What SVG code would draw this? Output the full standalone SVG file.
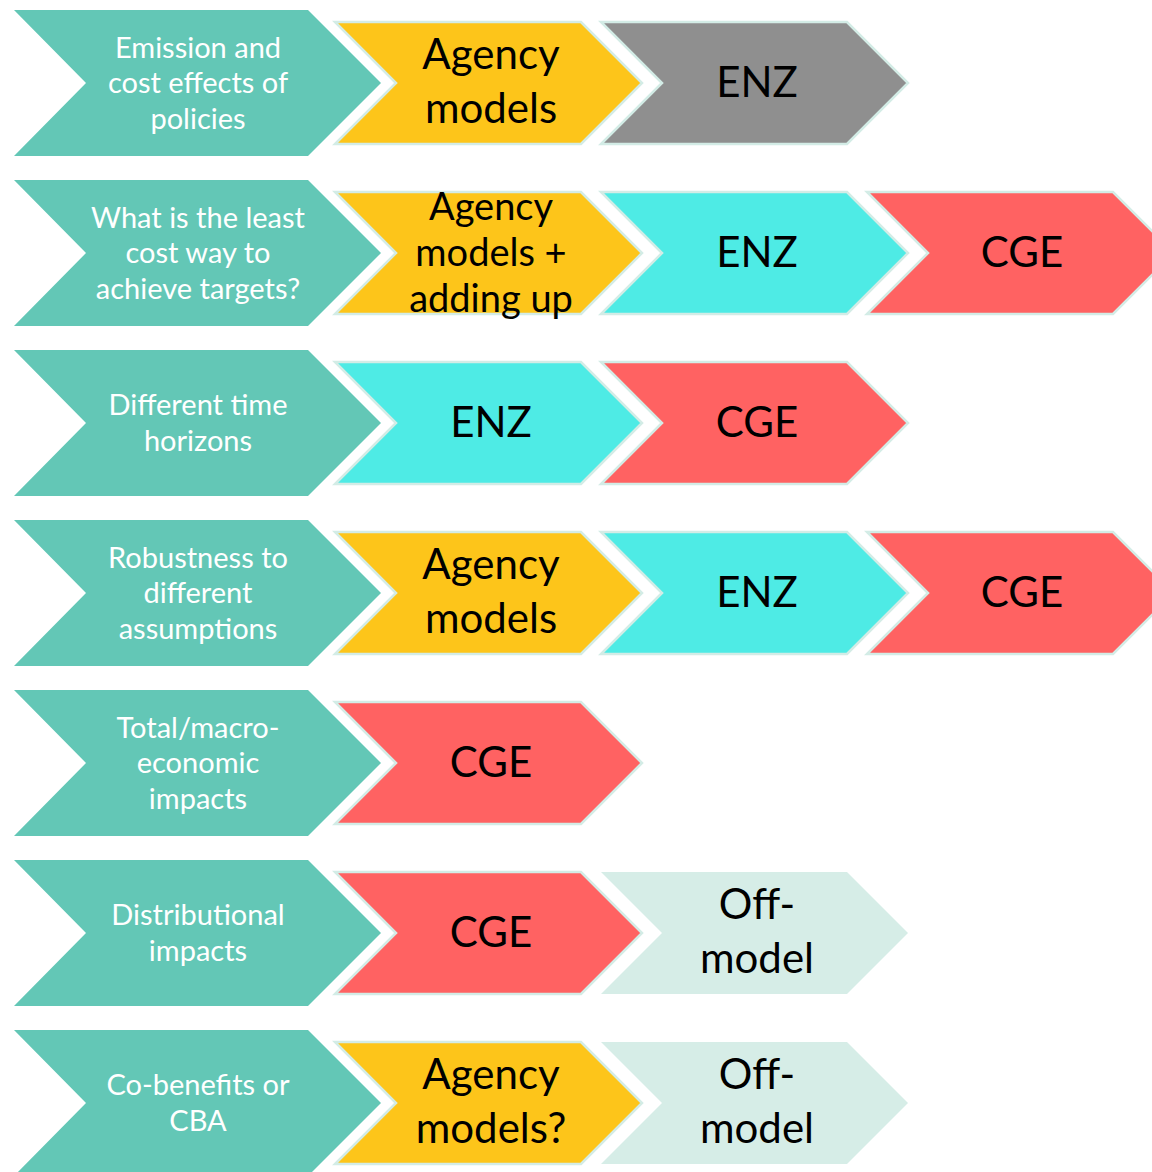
<svg xmlns="http://www.w3.org/2000/svg" xmlns:xlink="http://www.w3.org/1999/xlink" width="1152" height="1172" viewBox="0 0 1152 1172">
<defs>
<style>
.tealshape{fill:#63C7B6}
.box{stroke:#D3ECE6;stroke-width:2.5;stroke-linejoin:miter}
.yel{fill:#FDC51A}
.gry{fill:#8F8F8F}
.cya{fill:#4EEBE5}
.red{fill:#FF6262}
.lgt{fill:#D6EDE7}
.tt{font-family:Lato,"Open Sans","Liberation Sans",sans-serif;font-size:29px;fill:#FFFFFF;text-anchor:middle}
.st{font-family:Lato,"Open Sans","Liberation Sans",sans-serif;font-size:42px;fill:#000000;text-anchor:middle}
.st2{font-family:Lato,"Open Sans","Liberation Sans",sans-serif;font-size:38px;fill:#000000;text-anchor:middle}
</style>
<path id="bigchev" d="M14,10 H308 L381,83 L308,156 H14 L86,83 Z"/>
<path id="smchev" d="M0,22 H246 L307,83 L246,144 H0 L61,83 Z"/>
</defs>
<rect width="1152" height="1172" fill="#FFFFFF"/>

<!-- Row 0 -->
<g id="q1">
<use href="#bigchev" class="tealshape"/>
<text class="tt" x="198" y="57.5">Emission and</text>
<text class="tt" x="198" y="93">cost effects of</text>
<text class="tt" x="198" y="128.5">policies</text>
</g>
<g id="q1-agency">
<use href="#smchev" class="box yel" transform="translate(335,0)"/>
<text class="st" x="491" y="69">Agency</text>
<text class="st" x="491" y="123">models</text>
</g>
<g id="q1-enz">
<use href="#smchev" class="box gry" transform="translate(601,0)"/>
<text class="st" x="757" y="97">ENZ</text>
</g>

<!-- Row 1 -->
<g id="q2">
<use href="#bigchev" class="tealshape" transform="translate(0,170)"/>
<text class="tt" x="198" y="227.5">What is the least</text>
<text class="tt" x="198" y="263">cost way to</text>
<text class="tt" x="198" y="298.5">achieve targets?</text>
</g>
<g id="q2-agency">
<use href="#smchev" class="box yel" transform="translate(335,170)"/>
<text class="st2" x="491" y="220">Agency</text>
<text class="st2" x="491" y="266">models +</text>
<text class="st2" x="491" y="312">adding up</text>
</g>
<g id="q2-enz">
<use href="#smchev" class="box cya" transform="translate(601,170)"/>
<text class="st" x="757" y="267">ENZ</text>
</g>
<g id="q2-cge">
<use href="#smchev" class="box red" transform="translate(867,170)"/>
<text class="st" x="1022" y="267">CGE</text>
</g>

<!-- Row 2 -->
<g id="q3">
<use href="#bigchev" class="tealshape" transform="translate(0,340)"/>
<text class="tt" x="198" y="415">Different time</text>
<text class="tt" x="198" y="451">horizons</text>
</g>
<g id="q3-enz">
<use href="#smchev" class="box cya" transform="translate(335,340)"/>
<text class="st" x="491" y="437">ENZ</text>
</g>
<g id="q3-cge">
<use href="#smchev" class="box red" transform="translate(601,340)"/>
<text class="st" x="757" y="437">CGE</text>
</g>

<!-- Row 3 -->
<g id="q4">
<use href="#bigchev" class="tealshape" transform="translate(0,510)"/>
<text class="tt" x="198" y="567.5">Robustness to</text>
<text class="tt" x="198" y="603">different</text>
<text class="tt" x="198" y="638.5">assumptions</text>
</g>
<g id="q4-agency">
<use href="#smchev" class="box yel" transform="translate(335,510)"/>
<text class="st" x="491" y="579">Agency</text>
<text class="st" x="491" y="633">models</text>
</g>
<g id="q4-enz">
<use href="#smchev" class="box cya" transform="translate(601,510)"/>
<text class="st" x="757" y="607">ENZ</text>
</g>
<g id="q4-cge">
<use href="#smchev" class="box red" transform="translate(867,510)"/>
<text class="st" x="1022" y="607">CGE</text>
</g>

<!-- Row 4 -->
<g id="q5">
<use href="#bigchev" class="tealshape" transform="translate(0,680)"/>
<text class="tt" x="198" y="737.5">Total/macro-</text>
<text class="tt" x="198" y="773">economic</text>
<text class="tt" x="198" y="808.5">impacts</text>
</g>
<g id="q5-cge">
<use href="#smchev" class="box red" transform="translate(335,680)"/>
<text class="st" x="491" y="777">CGE</text>
</g>

<!-- Row 5 -->
<g id="q6">
<use href="#bigchev" class="tealshape" transform="translate(0,850)"/>
<text class="tt" x="198" y="925">Distributional</text>
<text class="tt" x="198" y="961">impacts</text>
</g>
<g id="q6-cge">
<use href="#smchev" class="box red" transform="translate(335,850)"/>
<text class="st" x="491" y="947">CGE</text>
</g>
<g id="q6-off">
<use href="#smchev" class="lgt" transform="translate(601,850)"/>
<text class="st" x="757" y="919">Off-</text>
<text class="st" x="757" y="973">model</text>
</g>

<!-- Row 6 -->
<g id="q7">
<use href="#bigchev" class="tealshape" transform="translate(0,1020)"/>
<text class="tt" x="198" y="1095">Co-benefits or</text>
<text class="tt" x="198" y="1131">CBA</text>
</g>
<g id="q7-agency">
<use href="#smchev" class="box yel" transform="translate(335,1020)"/>
<text class="st" x="491" y="1089">Agency</text>
<text class="st" x="491" y="1143">models?</text>
</g>
<g id="q7-off">
<use href="#smchev" class="lgt" transform="translate(601,1020)"/>
<text class="st" x="757" y="1089">Off-</text>
<text class="st" x="757" y="1143">model</text>
</g>

<g id="connectors"></g>
</svg>
